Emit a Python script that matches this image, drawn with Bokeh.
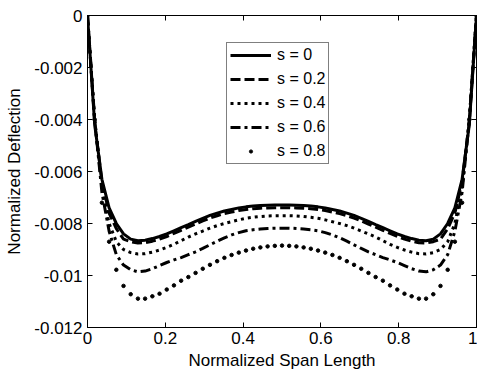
from bokeh.plotting import figure
from bokeh.models import Range1d, FixedTicker, LinearAxis, Legend, LegendItem
from bokeh.embed import file_html
from bokeh.resources import INLINE

# ---- data -------------------------------------------------------------
span = [0.0, 0.0185, 0.037, 0.0556, 0.0741, 0.0926, 0.1111, 0.1296, 0.1481, 0.1667,
        0.1852, 0.2037, 0.2222, 0.2407, 0.2593, 0.2778, 0.2963, 0.3148, 0.3333, 0.3519,
        0.3704, 0.3889, 0.4074, 0.4259, 0.4444, 0.463, 0.4815, 0.5, 0.5185, 0.537,
        0.5556, 0.5741, 0.5926, 0.6111, 0.6296, 0.6481, 0.6667, 0.6852, 0.7037, 0.7222,
        0.7407, 0.7593, 0.7778, 0.7963, 0.8148, 0.8333, 0.8519, 0.8704, 0.8889, 0.9074,
        0.9259, 0.9444, 0.963, 0.9815, 1.0]

defl_s00 = [0, -0.0042, -0.0063, -0.0074, -0.0080, -0.0084, -0.0086, -0.00866, -0.00864, -0.00858,
            -0.0085, -0.0084, -0.00828, -0.00816, -0.00804, -0.00792, -0.0078, -0.00769, -0.0076, -0.00752,
            -0.00746, -0.0074, -0.00736, -0.00733, -0.00731, -0.0073, -0.00729, -0.00729,
            -0.00729, -0.0073, -0.00731, -0.00733, -0.00736, -0.0074, -0.00746,
            -0.00752, -0.0076, -0.00769, -0.0078, -0.00792, -0.00804, -0.00816, -0.00828, -0.0084, -0.0085,
            -0.00858, -0.00864, -0.00866, -0.0086, -0.0084, -0.0080, -0.0074, -0.0063, -0.0042, 0]

defl_s02 = [0, -0.0041, -0.0064, -0.0076, -0.0082, -0.0086, -0.0087, -0.00875, -0.00874, -0.00868,
            -0.0086, -0.0085, -0.00838, -0.00826, -0.00814, -0.00802, -0.0079, -0.00779, -0.0077, -0.00762,
            -0.00756, -0.0075, -0.00746, -0.00743, -0.00741, -0.0074, -0.00739, -0.00739,
            -0.00739, -0.0074, -0.00741, -0.00743, -0.00746, -0.0075, -0.00756,
            -0.00762, -0.0077, -0.00779, -0.0079, -0.00802, -0.00814, -0.00826, -0.00838, -0.0085, -0.0086,
            -0.00868, -0.00874, -0.00875, -0.0087, -0.0086, -0.0082, -0.0076, -0.0064, -0.0041, 0]

defl_s04 = [0, -0.0040, -0.0066, -0.0080, -0.0087, -0.0090, -0.00912, -0.00917, -0.00916, -0.0091,
            -0.00902, -0.00892, -0.0088, -0.00866, -0.00852, -0.0084, -0.00829, -0.00818, -0.00808, -0.008,
            -0.00793, -0.00786, -0.0078, -0.00776, -0.00773, -0.00771, -0.0077, -0.0077,
            -0.0077, -0.00771, -0.00773, -0.00776, -0.0078, -0.00786, -0.00793,
            -0.008, -0.00808, -0.00818, -0.00829, -0.0084, -0.00852, -0.00866, -0.0088, -0.00892, -0.00902,
            -0.0091, -0.00916, -0.00917, -0.00912, -0.0090, -0.0087, -0.0080, -0.0066, -0.0040, 0]

defl_s06 = [0, -0.0040, -0.0068, -0.0083, -0.0092, -0.0096, -0.00978, -0.00986, -0.00983, -0.00974,
            -0.00962, -0.0095, -0.0094, -0.00931, -0.0092, -0.00909, -0.00896, -0.00882, -0.00868, -0.00855,
            -0.00844, -0.00835, -0.00828, -0.00824, -0.00821, -0.00819, -0.00818, -0.00818,
            -0.00818, -0.00819, -0.00821, -0.00824, -0.00828, -0.00835, -0.00844,
            -0.00855, -0.00868, -0.00882, -0.00896, -0.00909, -0.0092, -0.00931, -0.0094, -0.0095, -0.00962,
            -0.00974, -0.00983, -0.00986, -0.00978, -0.0096, -0.0092, -0.0083, -0.0068, -0.0040, 0]

defl_s08 = [0, -0.0040, -0.0072, -0.0087, -0.00978, -0.0104, -0.01072, -0.01089, -0.01089, -0.0108,
            -0.0107, -0.01054, -0.01038, -0.0102, -0.01006, -0.0099, -0.00974, -0.00959, -0.00945, -0.00932,
            -0.00921, -0.00912, -0.00904, -0.00897, -0.00892, -0.00888, -0.00886, -0.00885,
            -0.00886, -0.00888, -0.00892, -0.00897, -0.00904, -0.00912, -0.00921,
            -0.00932, -0.00945, -0.00959, -0.00974, -0.0099, -0.01006, -0.0102, -0.01038, -0.01054, -0.0107,
            -0.0108, -0.01089, -0.01089, -0.01072, -0.0104, -0.00978, -0.0087, -0.0072, -0.0040, 0]

series_labels = ["s = 0", "s = 0.2", "s = 0.4", "s = 0.6", "s = 0.8"]

x_ticks = [0, 0.2, 0.4, 0.6, 0.8, 1]
x_tick_labels = ["0", "0.2", "0.4", "0.6", "0.8", "1"]
y_ticks = [-0.012, -0.01, -0.008, -0.006, -0.004, -0.002, 0]
y_tick_labels = ["-0.012", "-0.01", "-0.008", "-0.006", "-0.004", "-0.002", "0"]

FONT = "Liberation Sans"

# ---- figure -----------------------------------------------------------
p = figure(width=477, height=372, output_backend="svg", toolbar_location=None,
           x_range=Range1d(0, 1), y_range=Range1d(-0.012, 0),
           min_border_left=87, min_border_right=1, min_border_top=15, min_border_bottom=44)
p.background_fill_color = "white"
p.border_fill_color = "white"
p.outline_line_color = "black"
p.xgrid.visible = False
p.ygrid.visible = False

def style_axis(ax, ticks, labels=None):
    ax.ticker = FixedTicker(ticks=ticks)
    ax.major_tick_in = 5
    ax.major_tick_out = 0
    ax.minor_tick_line_color = None
    ax.axis_line_color = "black"
    ax.major_tick_line_color = "black"
    if labels is not None:
        ax.major_label_overrides = {t: l for t, l in zip(ticks, labels)}
        ax.major_label_text_font = FONT
        ax.major_label_text_font_size = "17px"
        ax.major_label_text_color = "black"
        ax.axis_label_text_font = FONT
        ax.axis_label_text_font_size = "17px"
        ax.axis_label_text_font_style = "normal"
        ax.axis_label_text_color = "black"
    else:
        # mirrored tick marks only, no labels drawn
        ax.major_label_text_color = None
        ax.major_label_standoff = 0

xa = p.xaxis[0]
style_axis(xa, x_ticks, x_tick_labels)
xa.axis_label = "Normalized Span Length"
xa.major_label_standoff = 4
xa.axis_label_standoff = 4

ya = p.yaxis[0]
style_axis(ya, y_ticks, y_tick_labels)
ya.axis_label = "Normalized Deflection"
ya.major_label_standoff = 5
ya.axis_label_standoff = 7

ra = LinearAxis()
style_axis(ra, y_ticks)
p.add_layout(ra, "right")
ta = LinearAxis()
style_axis(ta, x_ticks)
p.add_layout(ta, "above")

# ---- series -----------------------------------------------------------
r0 = p.line(span, defl_s00, line_color="black", line_width=3)
r1 = p.line(span, defl_s02, line_color="black", line_width=3, line_dash="10 4")
r2 = p.line(span, defl_s04, line_color="black", line_width=3, line_dash="3 4")
r3 = p.line(span, defl_s06, line_color="black", line_width=3, line_dash="10 4 3 4")
r4 = p.scatter(span, defl_s08, marker="circle", size=3.5, fill_color="black", line_color="black")

legend = Legend(items=[LegendItem(label=series_labels[i], renderers=[r])
                       for i, r in enumerate([r0, r1, r2, r3, r4])],
                location=(139, 163))
legend.border_line_color = "black"
legend.border_line_width = 1
legend.background_fill_color = "white"
legend.background_fill_alpha = 1
legend.label_text_font = FONT
legend.label_text_font_size = "16px"
legend.label_text_color = "black"
legend.glyph_width = 41
legend.glyph_height = 8
legend.label_height = 16
legend.label_standoff = 6
legend.padding = 3
legend.spacing = 6
legend.margin = 0
p.add_layout(legend, "center")

open("out.html", "w").write(file_html(p, INLINE))
